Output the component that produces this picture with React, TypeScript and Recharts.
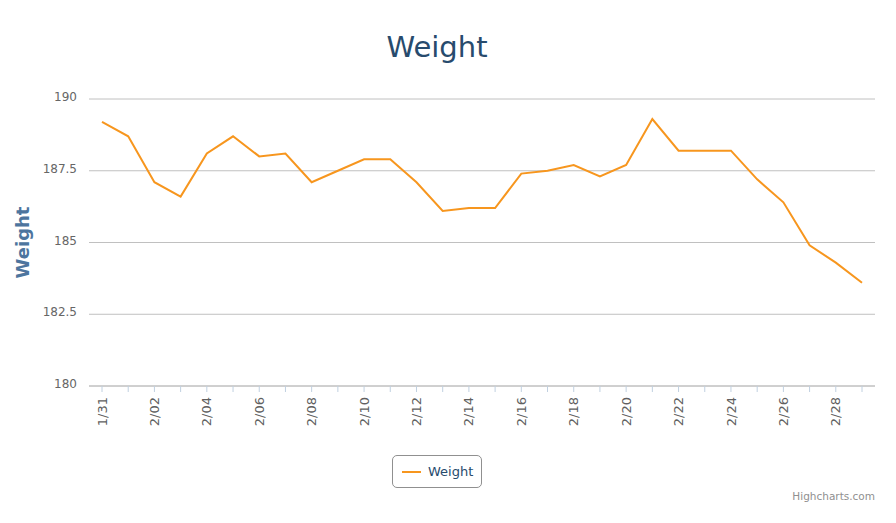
import React from 'react';
import { LineChart, Line, XAxis, YAxis, CartesianGrid, Legend } from 'recharts';

const dates = ['1/31','2/01','2/02','2/03','2/04','2/05','2/06','2/07','2/08','2/09','2/10','2/11','2/12','2/13','2/14','2/15','2/16','2/17','2/18','2/19','2/20','2/21','2/22','2/23','2/24','2/25','2/26','2/27','2/28','2/29'];
const weights = [189.2,188.7,187.1,186.6,188.1,188.7,188.0,188.1,187.1,187.5,187.9,187.9,187.1,186.1,186.2,186.2,187.4,187.5,187.7,187.3,187.7,189.3,188.2,188.2,188.2,187.2,186.4,184.9,184.3,183.6];
const yTicks = [180, 182.5, 185, 187.5, 190];
const seriesName = 'Weight';
const titleText = 'Weight';
const yAxisTitle = 'Weight';
const creditsText = 'Highcharts.com';

const data = dates.map((d, i) => ({ date: d, weight: weights[i] }));

const FONT = '"DejaVu Sans", Verdana, sans-serif';
const LINE_COLOR = '#F7961E';

const XTick = (props: any) => {
  const { x, y, payload } = props;
  if (payload.index % 2 !== 0) return <g />;
  return (
    <text
      x={x}
      y={y}
      transform={`rotate(-90 ${x} ${y})`}
      textAnchor="end"
      dy="0.35em"
      fill="#606060"
      fontSize={13}
      fontFamily={FONT}
    >
      {payload.value}
    </text>
  );
};

const YTick = (props: any) => {
  const { x, y, payload } = props;
  return (
    <text x={x} y={y} dy="0.35em" transform="translate(0,-2)" textAnchor="end" fill="#666666" fontSize={12} fontFamily={FONT}>
      {payload.value}
    </text>
  );
};

const YTitle = () => (
  <text
    x={22}
    y={242.5}
    transform="rotate(-90 22 242.5)"
    textAnchor="middle"
    dominantBaseline="central"
    fill="#4D759E"
    fontWeight="bold"
    fontSize={18}
    fontFamily={FONT}
  >
    {yAxisTitle}
  </text>
);

const LegendBox = (props: any) => {
  const { payload } = props;
  return (
    <div style={{ display: 'flex' }}>
      {(payload || []).map((p: any) => (
        <div
          key={p.value}
          style={{
            boxSizing: 'border-box',
            width: 90,
            height: 33,
            border: '1px solid #909090',
            borderRadius: 5,
            display: 'flex',
            alignItems: 'center',
            paddingLeft: 9,
            fontFamily: FONT,
            fontSize: 13,
            color: '#274B6D',
            background: '#fff',
          }}
        >
          <span style={{ display: 'inline-block', width: 19, height: 2, background: LINE_COLOR, marginRight: 7 }} />
          <span>{p.value}</span>
        </div>
      ))}
    </div>
  );
};

export default function App() {
  return (
    <div style={{ position: 'absolute', left: 0, top: 0, width: 896, height: 523, background: '#fff' }}>
      <LineChart
        width={896}
        height={523}
        data={data}
        margin={{ top: 99, right: 21, left: 0, bottom: 77 }}
      >
        <CartesianGrid vertical={false} stroke="#C0C0C0" strokeWidth={1} />
        <XAxis
          dataKey="date"
          interval={0}
          padding={{ left: 13, right: 13 }}
          height={60}
          stroke="#C0C0C0"
          tickLine={{ stroke: '#C0D0E0' }}
          tickSize={6}
          tickMargin={5}
          tick={<XTick />}
        />
        <YAxis
          domain={[180, 190]}
          ticks={yTicks}
          width={89}
          axisLine={false}
          tickLine={false}
          tickSize={0}
          tickMargin={12}
          tick={<YTick />}
          label={<YTitle />}
        />
        <Legend
          verticalAlign="middle"
          align="center"
          layout="horizontal"
          content={<LegendBox />}
          wrapperStyle={{ position: 'absolute', left: 392, top: 455, width: 90, height: 33, bottom: 'auto', right: 'auto' }}
        />
        <Line
          type="linear"
          dataKey="weight"
          name={seriesName}
          stroke={LINE_COLOR}
          strokeWidth={2}
          dot={false}
          activeDot={false}
          isAnimationActive={false}
        />
      </LineChart>
      <svg width={896} height={523} style={{ position: 'absolute', left: 0, top: 0, pointerEvents: 'none' }}>
        <text x={437} y={57} textAnchor="middle" fill="#274B6D" fontSize={29} fontFamily={FONT}>
          {titleText}
        </text>
        <text x={875} y={500} textAnchor="end" fill="#909090" fontSize={10.5} fontFamily={FONT}>
          {creditsText}
        </text>
      </svg>
    </div>
  );
}
